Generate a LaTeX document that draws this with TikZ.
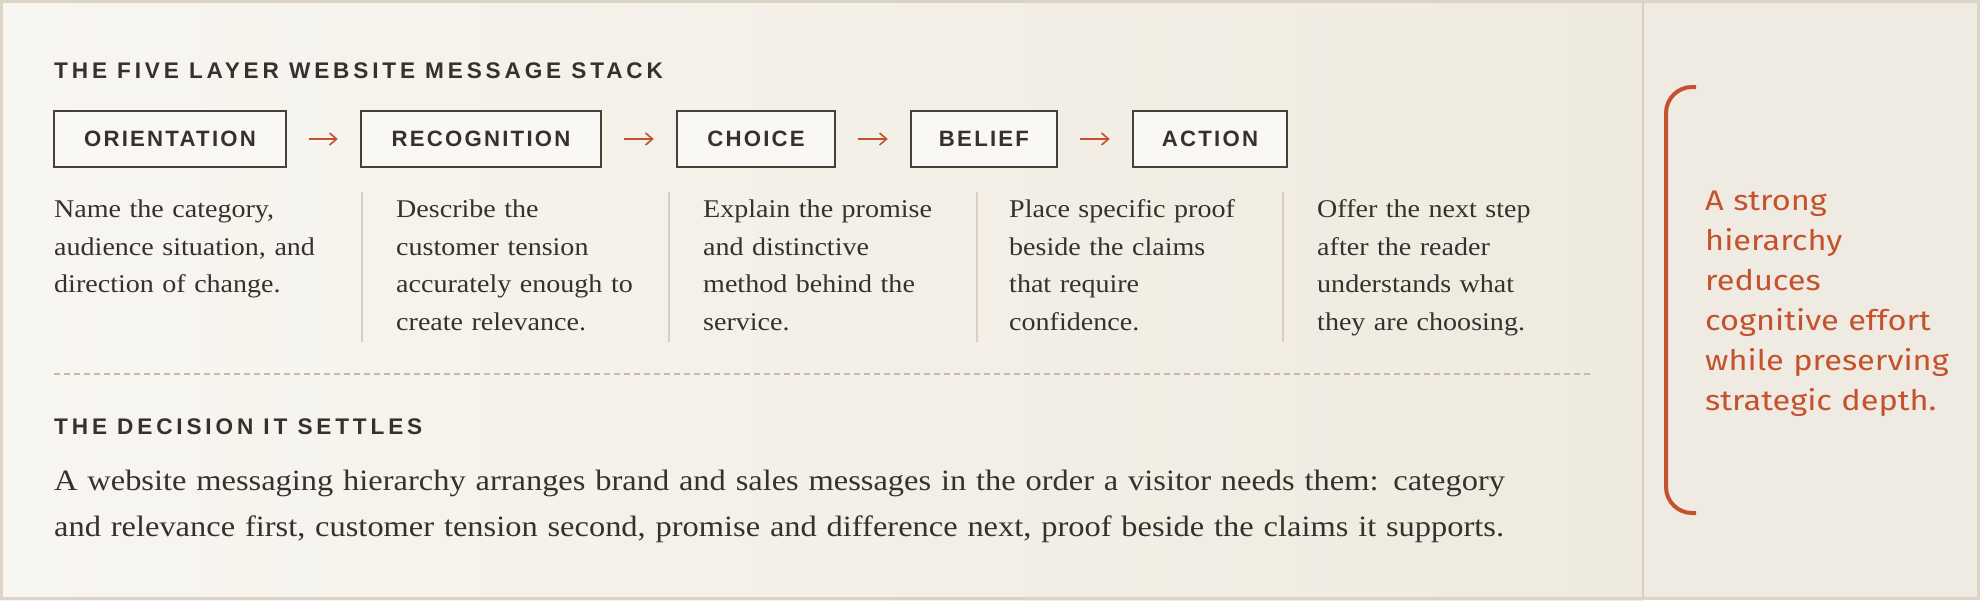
\documentclass[tikz,border=0pt]{standalone}
\usepackage{fontspec}
\setmainfont{Liberation Serif}[FakeStretch=1.10]
\newfontfamily\headfont{Liberation Sans}[LetterSpace=17]
\newfontfamily\boxfont{Liberation Sans}[LetterSpace=10]
\newfontfamily\handfont{Fira Sans}[FakeStretch=1.15]
\usetikzlibrary{arrows.meta}
\definecolor{ink}{HTML}{36312D}
\definecolor{boxline}{HTML}{45403A}
\definecolor{boxfill}{HTML}{FAF8F4}
\definecolor{accent}{HTML}{C4522C}
\definecolor{rule}{HTML}{D8CDBF}
\definecolor{dashc}{HTML}{C3BBB0}
\definecolor{frame}{HTML}{DCD3C5}
\definecolor{bgl}{HTML}{F8F6F1}
\definecolor{bgr}{HTML}{EFEADF}
\definecolor{panel}{HTML}{EFEBE2}
\begin{document}
\begin{tikzpicture}[x=1pt,y=-1pt,
  heading/.style={anchor=base west,inner sep=0pt,text=ink,font=\headfont\bfseries\fontsize{22.6}{26}\selectfont},
  stagebox/.style={draw=boxline,line width=2.5pt,fill=boxfill,minimum height=56pt,inner sep=0pt,text=ink,font=\boxfont\bfseries\fontsize{22.2}{26}\selectfont},
  flow/.style={draw=accent,line width=1.6pt,-{Straight Barb[length=7pt,width=12pt]},shorten >=22pt,shorten <=22pt},
  coltext/.style={anchor=base west,inner sep=0pt,text=ink,text width=300pt,align=left,font=\fontsize{25.5}{37.5}\selectfont},
  paratext/.style={anchor=base west,inner sep=0pt,text=ink,text width=1550pt,align=left,font=\fontsize{29.5}{46}\selectfont},
  handtext/.style={anchor=base west,inner sep=0pt,text=accent,text width=270pt,align=left,font=\handfont\fontsize{28.3}{40}\selectfont},
  divider/.style={draw=rule,line width=2pt}
]
\useasboundingbox (0,0) rectangle (1980,600);
% background
\shade[left color=bgl,right color=bgr] (0,0) rectangle (1643,600);
\fill[panel] (1643,0) rectangle (1980,600);
\draw[rule,line width=2pt] (1643,0) -- (1643,600);
\draw[frame,line width=3pt] (1.5,1.5) rectangle (1978.5,598.5);

% title
\node[heading] (title) at (54,78) {THE FIVE LAYER WEBSITE MESSAGE STACK};

% stage boxes
\node[stagebox,minimum width=232pt] (orient) at (170,139) {ORIENTATION};
\node[stagebox,minimum width=240pt] (recog) at (481,139) {RECOGNITION};
\node[stagebox,minimum width=158pt] (choice) at (756,139) {CHOICE};
\node[stagebox,minimum width=146pt] (belief) at (984,139) {BELIEF};
\node[stagebox,minimum width=154pt] (action) at (1210,139) {ACTION};
\draw[flow] (orient.east) -- (recog.west);
\draw[flow] (recog.east) -- (choice.west);
\draw[flow] (choice.east) -- (belief.west);
\draw[flow] (belief.east) -- (action.west);

% column descriptions
\node[coltext] (d1) at (54,217.7) {Name the category,\\audience situation, and\\direction of change.};
\node[coltext] (d2) at (396,217.7) {Describe the\\customer tension\\accurately enough to\\create relevance.};
\node[coltext] (d3) at (703,217.7) {Explain the promise\\and distinctive\\method behind the\\service.};
\node[coltext] (d4) at (1009,217.7) {Place specific proof\\beside the claims\\that require\\confidence.};
\node[coltext] (d5) at (1317,217.7) {Offer the next step\\after the reader\\understands what\\they are choosing.};
\foreach \xx in {362,669,977,1283} \draw[divider] (\xx,192) -- (\xx,342);

% dashed separator
\draw[dashc,line width=1.5pt,dash pattern=on 6pt off 4pt] (54,374) -- (1590,374);

% decision
\node[heading] (dectitle) at (54,434) {THE DECISION IT SETTLES};
\node[paratext] (para) at (54,490) {A website messaging hierarchy arranges brand and sales messages in the order a visitor needs them: category\\and relevance first, customer tension second, promise and difference next, proof beside the claims it supports.};

% side note
\draw[accent,line width=4pt,rounded corners=26pt] (1696,87) -- (1666,87) -- (1666,513) -- (1696,513);
\node[handtext] (note) at (1705,210) {A strong\\hierarchy\\reduces\\cognitive effort\\while preserving\\strategic depth.};
\end{tikzpicture}
\end{document}
